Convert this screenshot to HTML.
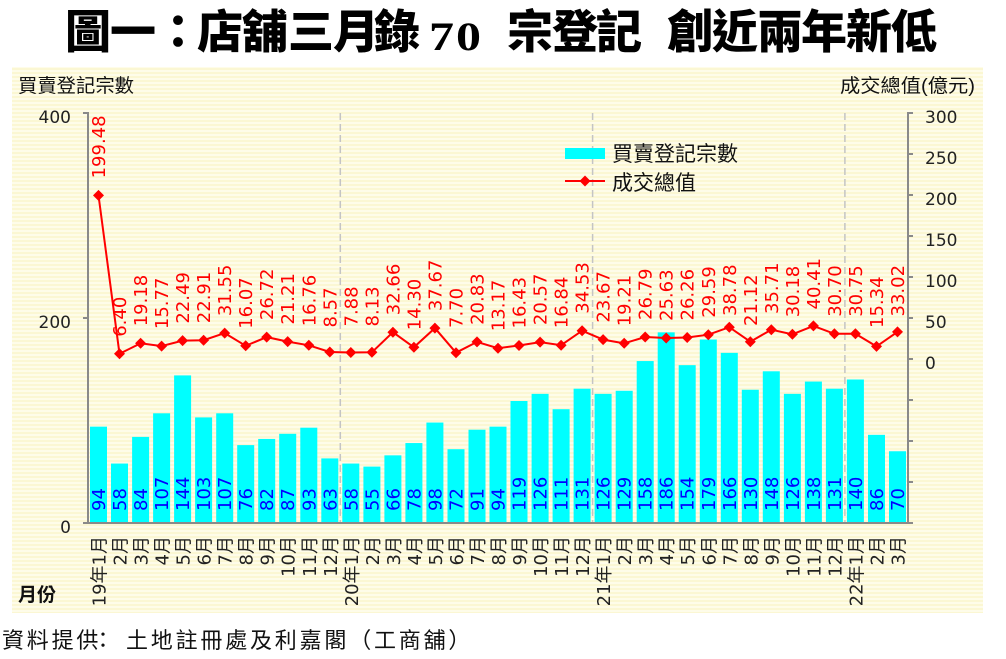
<!DOCTYPE html>
<html><head><meta charset="utf-8"><style>
html,body{margin:0;padding:0;background:#fff;}
svg{display:block;}
.num{font-family:"DejaVu Sans","Liberation Sans",sans-serif;font-size:18px;}
.tk{font-family:"DejaVu Sans","Liberation Sans",sans-serif;font-size:17px;fill:#222;}
.xl{font-family:"DejaVu Sans","Noto Sans CJK TC",sans-serif;font-size:18px;fill:#222;}
.cjk{font-family:"Liberation Sans","Noto Sans CJK TC",sans-serif;}
</style></head><body>
<svg width="1006" height="659" viewBox="0 0 1006 659" xmlns="http://www.w3.org/2000/svg">
<defs>
<pattern id="st" width="8" height="4" patternUnits="userSpaceOnUse">
<rect width="8" height="2" fill="#fbf7d3"/><rect y="2" width="8" height="2" fill="#fefce9"/>
</pattern>
<path id="dm" d="M0,-5.5 L5.5,0 L0,5.5 L-5.5,0Z" fill="#ff0000"/>
</defs>

<!-- title -->
<text class="cjk" y="48" font-size="46" font-weight="900" fill="#000" x="65 110 155 197 242 288 333 374">圖一：店舖三月錄</text>
<text transform="translate(429,50) scale(1.25,1)" font-family="'Liberation Serif',serif" font-size="40" font-weight="bold" fill="#000">7</text>
<text transform="translate(456,50) scale(1.25,1)" font-family="'Liberation Serif',serif" font-size="40" font-weight="bold" fill="#000">0</text>
<text class="cjk" y="48" font-size="46" font-weight="900" fill="#000" x="507 552 596">宗登記</text>
<text class="cjk" y="48" font-size="46" font-weight="900" fill="#000" x="667 712 757 801 846 891">創近兩年新低</text>

<!-- chart background -->
<rect x="12" y="67" width="971" height="546" fill="url(#st)"/>

<!-- axis titles -->
<text class="cjk" x="18" y="92" font-size="19" fill="#111" textLength="116" lengthAdjust="spacingAndGlyphs">買賣登記宗數</text>
<text class="cjk" x="840" y="92" font-size="19" fill="#111" textLength="135" lengthAdjust="spacingAndGlyphs">成交總值(億元)</text>
<text class="cjk" x="18" y="601" font-size="19" font-weight="bold" fill="#111">月份</text>

<!-- year dividers -->
<g stroke="#c4c4c4" stroke-width="1.5" stroke-dasharray="7 4">
<line x1="340.3" y1="113" x2="340.3" y2="523"/>
<line x1="592.6" y1="113" x2="592.6" y2="523"/>
<line x1="844.9" y1="113" x2="844.9" y2="523"/>
</g>

<!-- bars -->
<g fill="#00ffff">
<rect x="90.0" y="426.65" width="17" height="96.35"/>
<rect x="111.0" y="463.55" width="17" height="59.45"/>
<rect x="132.1" y="436.9" width="17" height="86.1"/>
<rect x="153.1" y="413.3" width="17" height="109.7"/>
<rect x="174.1" y="375.4" width="17" height="147.6"/>
<rect x="195.1" y="417.4" width="17" height="105.6"/>
<rect x="216.2" y="413.3" width="17" height="109.7"/>
<rect x="237.2" y="445.1" width="17" height="77.9"/>
<rect x="258.2" y="438.95" width="17" height="84.05"/>
<rect x="279.2" y="433.8" width="17" height="89.2"/>
<rect x="300.3" y="427.7" width="17" height="95.3"/>
<rect x="321.3" y="458.4" width="17" height="64.6"/>
<rect x="342.3" y="463.55" width="17" height="59.45"/>
<rect x="363.4" y="466.6" width="17" height="56.4"/>
<rect x="384.4" y="455.35" width="17" height="67.65"/>
<rect x="405.4" y="443.05" width="17" height="79.95"/>
<rect x="426.4" y="422.55" width="17" height="100.45"/>
<rect x="447.5" y="449.2" width="17" height="73.8"/>
<rect x="468.5" y="429.7" width="17" height="93.3"/>
<rect x="489.5" y="426.65" width="17" height="96.35"/>
<rect x="510.5" y="401.0" width="17" height="122.0"/>
<rect x="531.6" y="393.85" width="17" height="129.15"/>
<rect x="552.6" y="409.2" width="17" height="113.8"/>
<rect x="573.6" y="388.7" width="17" height="134.3"/>
<rect x="594.6" y="393.85" width="17" height="129.15"/>
<rect x="615.7" y="390.8" width="17" height="132.2"/>
<rect x="636.7" y="361.05" width="17" height="161.95"/>
<rect x="657.7" y="332.35" width="17" height="190.65"/>
<rect x="678.7" y="365.15" width="17" height="157.85"/>
<rect x="699.8" y="339.5" width="17" height="183.5"/>
<rect x="720.8" y="352.85" width="17" height="170.15"/>
<rect x="741.8" y="389.75" width="17" height="133.25"/>
<rect x="762.8" y="371.3" width="17" height="151.7"/>
<rect x="783.9" y="393.85" width="17" height="129.15"/>
<rect x="804.9" y="381.55" width="17" height="141.45"/>
<rect x="825.9" y="388.7" width="17" height="134.3"/>
<rect x="846.9" y="379.5" width="17" height="143.5"/>
<rect x="868.0" y="434.85" width="17" height="88.15"/>
<rect x="889.0" y="451.25" width="17" height="71.75"/>
</g>

<!-- bar labels -->
<g class="num" fill="#0000ff">
<text transform="translate(105.0,511) rotate(-90)">94</text>
<text transform="translate(126.0,511) rotate(-90)">58</text>
<text transform="translate(147.1,511) rotate(-90)">84</text>
<text transform="translate(168.1,511) rotate(-90)">107</text>
<text transform="translate(189.1,511) rotate(-90)">144</text>
<text transform="translate(210.1,511) rotate(-90)">103</text>
<text transform="translate(231.2,511) rotate(-90)">107</text>
<text transform="translate(252.2,511) rotate(-90)">76</text>
<text transform="translate(273.2,511) rotate(-90)">82</text>
<text transform="translate(294.2,511) rotate(-90)">87</text>
<text transform="translate(315.3,511) rotate(-90)">93</text>
<text transform="translate(336.3,511) rotate(-90)">63</text>
<text transform="translate(357.3,511) rotate(-90)">58</text>
<text transform="translate(378.4,511) rotate(-90)">55</text>
<text transform="translate(399.4,511) rotate(-90)">66</text>
<text transform="translate(420.4,511) rotate(-90)">78</text>
<text transform="translate(441.4,511) rotate(-90)">98</text>
<text transform="translate(462.5,511) rotate(-90)">72</text>
<text transform="translate(483.5,511) rotate(-90)">91</text>
<text transform="translate(504.5,511) rotate(-90)">94</text>
<text transform="translate(525.5,511) rotate(-90)">119</text>
<text transform="translate(546.6,511) rotate(-90)">126</text>
<text transform="translate(567.6,511) rotate(-90)">111</text>
<text transform="translate(588.6,511) rotate(-90)">131</text>
<text transform="translate(609.6,511) rotate(-90)">126</text>
<text transform="translate(630.7,511) rotate(-90)">129</text>
<text transform="translate(651.7,511) rotate(-90)">158</text>
<text transform="translate(672.7,511) rotate(-90)">186</text>
<text transform="translate(693.7,511) rotate(-90)">154</text>
<text transform="translate(714.8,511) rotate(-90)">179</text>
<text transform="translate(735.8,511) rotate(-90)">166</text>
<text transform="translate(756.8,511) rotate(-90)">130</text>
<text transform="translate(777.8,511) rotate(-90)">148</text>
<text transform="translate(798.9,511) rotate(-90)">126</text>
<text transform="translate(819.9,511) rotate(-90)">138</text>
<text transform="translate(840.9,511) rotate(-90)">131</text>
<text transform="translate(861.9,511) rotate(-90)">140</text>
<text transform="translate(883.0,511) rotate(-90)">86</text>
<text transform="translate(904.0,511) rotate(-90)">70</text>
</g>

<!-- axes -->
<g stroke="#8a8a8a" stroke-width="2" fill="none">
<line x1="88" y1="112" x2="88" y2="524"/>
<line x1="908" y1="112" x2="908" y2="524"/>
<line x1="83" y1="523" x2="913" y2="523"/>
<line x1="83" y1="113" x2="88" y2="113"/>
<line x1="83" y1="318" x2="88" y2="318"/>
<line x1="908" y1="113" x2="913" y2="113"/>
<line x1="908" y1="154" x2="913" y2="154"/>
<line x1="908" y1="195" x2="913" y2="195"/>
<line x1="908" y1="236" x2="913" y2="236"/>
<line x1="908" y1="277" x2="913" y2="277"/>
<line x1="908" y1="318" x2="913" y2="318"/>
<line x1="908" y1="359" x2="913" y2="359"/>
<line x1="908" y1="400" x2="913" y2="400"/>
<line x1="908" y1="441" x2="913" y2="441"/>
<line x1="908" y1="482" x2="913" y2="482"/>
</g>

<!-- tick labels -->
<g class="tk" text-anchor="end">
<text x="71" y="123">400</text>
<text x="71" y="328">200</text>
<text x="71" y="533">0</text>
</g>
<g class="tk">
<text x="925" y="123">300</text>
<text x="925" y="164">250</text>
<text x="925" y="205">200</text>
<text x="925" y="246">150</text>
<text x="925" y="287">100</text>
<text x="925" y="328">50</text>
<text x="925" y="369">0</text>
</g>

<!-- line series -->
<polyline fill="none" stroke="#ff0000" stroke-width="2" points="98.5,195.4 119.5,353.8 140.6,343.3 161.6,346.1 182.6,340.6 203.6,340.2 224.7,333.1 245.7,345.8 266.7,337.1 287.7,341.6 308.8,345.3 329.8,352.0 350.8,352.5 371.9,352.3 392.9,332.2 413.9,347.3 434.9,328.1 456.0,352.7 477.0,341.9 498.0,348.2 519.0,345.5 540.1,342.1 561.1,345.2 582.1,330.7 603.1,339.6 624.2,343.3 645.2,337.0 666.2,338.0 687.2,337.5 708.3,334.7 729.3,327.2 750.3,341.7 771.3,329.7 792.4,334.3 813.4,325.9 834.4,333.8 855.4,333.8 876.5,346.4 897.5,331.9"/>
<g>
<use href="#dm" x="98.5" y="195.4"/><use href="#dm" x="119.5" y="353.8"/><use href="#dm" x="140.6" y="343.3"/><use href="#dm" x="161.6" y="346.1"/><use href="#dm" x="182.6" y="340.6"/><use href="#dm" x="203.6" y="340.2"/><use href="#dm" x="224.7" y="333.1"/><use href="#dm" x="245.7" y="345.8"/><use href="#dm" x="266.7" y="337.1"/><use href="#dm" x="287.7" y="341.6"/><use href="#dm" x="308.8" y="345.3"/><use href="#dm" x="329.8" y="352.0"/><use href="#dm" x="350.8" y="352.5"/><use href="#dm" x="371.9" y="352.3"/><use href="#dm" x="392.9" y="332.2"/><use href="#dm" x="413.9" y="347.3"/><use href="#dm" x="434.9" y="328.1"/><use href="#dm" x="456.0" y="352.7"/><use href="#dm" x="477.0" y="341.9"/><use href="#dm" x="498.0" y="348.2"/><use href="#dm" x="519.0" y="345.5"/><use href="#dm" x="540.1" y="342.1"/><use href="#dm" x="561.1" y="345.2"/><use href="#dm" x="582.1" y="330.7"/><use href="#dm" x="603.1" y="339.6"/><use href="#dm" x="624.2" y="343.3"/><use href="#dm" x="645.2" y="337.0"/><use href="#dm" x="666.2" y="338.0"/><use href="#dm" x="687.2" y="337.5"/><use href="#dm" x="708.3" y="334.7"/><use href="#dm" x="729.3" y="327.2"/><use href="#dm" x="750.3" y="341.7"/><use href="#dm" x="771.3" y="329.7"/><use href="#dm" x="792.4" y="334.3"/><use href="#dm" x="813.4" y="325.9"/><use href="#dm" x="834.4" y="333.8"/><use href="#dm" x="855.4" y="333.8"/><use href="#dm" x="876.5" y="346.4"/><use href="#dm" x="897.5" y="331.9"/>
</g>

<!-- line labels -->
<g class="num" fill="#ff0000">
<text transform="translate(105.0,178.4) rotate(-90)">199.48</text>
<text transform="translate(126.0,336.8) rotate(-90)">6.40</text>
<text transform="translate(147.1,326.3) rotate(-90)">19.18</text>
<text transform="translate(168.1,329.1) rotate(-90)">15.77</text>
<text transform="translate(189.1,323.6) rotate(-90)">22.49</text>
<text transform="translate(210.1,323.2) rotate(-90)">22.91</text>
<text transform="translate(231.2,316.1) rotate(-90)">31.55</text>
<text transform="translate(252.2,328.8) rotate(-90)">16.07</text>
<text transform="translate(273.2,320.1) rotate(-90)">26.72</text>
<text transform="translate(294.2,324.6) rotate(-90)">21.21</text>
<text transform="translate(315.3,326.3) rotate(-90)">16.76</text>
<text transform="translate(336.3,327.5) rotate(-90)">8.57</text>
<text transform="translate(357.3,326.5) rotate(-90)">7.88</text>
<text transform="translate(378.4,326.5) rotate(-90)">8.13</text>
<text transform="translate(399.4,315.2) rotate(-90)">32.66</text>
<text transform="translate(420.4,330.3) rotate(-90)">14.30</text>
<text transform="translate(441.4,311.1) rotate(-90)">37.67</text>
<text transform="translate(462.5,328.0) rotate(-90)">7.70</text>
<text transform="translate(483.5,324.9) rotate(-90)">20.83</text>
<text transform="translate(504.5,331.2) rotate(-90)">13.17</text>
<text transform="translate(525.5,328.5) rotate(-90)">16.43</text>
<text transform="translate(546.6,325.1) rotate(-90)">20.57</text>
<text transform="translate(567.6,328.2) rotate(-90)">16.84</text>
<text transform="translate(588.6,313.7) rotate(-90)">34.53</text>
<text transform="translate(609.6,322.6) rotate(-90)">23.67</text>
<text transform="translate(630.7,326.3) rotate(-90)">19.21</text>
<text transform="translate(651.7,320.0) rotate(-90)">26.79</text>
<text transform="translate(672.7,321.0) rotate(-90)">25.63</text>
<text transform="translate(693.7,320.5) rotate(-90)">26.26</text>
<text transform="translate(714.8,317.7) rotate(-90)">29.59</text>
<text transform="translate(735.8,316.0) rotate(-90)">38.78</text>
<text transform="translate(756.8,326.0) rotate(-90)">21.12</text>
<text transform="translate(777.8,314.0) rotate(-90)">35.71</text>
<text transform="translate(798.9,317.3) rotate(-90)">30.18</text>
<text transform="translate(819.9,309.5) rotate(-90)">40.41</text>
<text transform="translate(840.9,316.8) rotate(-90)">30.70</text>
<text transform="translate(861.9,316.8) rotate(-90)">30.75</text>
<text transform="translate(883.0,328.0) rotate(-90)">15.34</text>
<text transform="translate(904.0,316.5) rotate(-90)">33.02</text>
</g>

<!-- x labels -->
<g class="xl" text-anchor="end">
<text transform="translate(105.5,536) rotate(-90)">19年1月</text>
<text transform="translate(126.5,536) rotate(-90)">2月</text>
<text transform="translate(147.6,536) rotate(-90)">3月</text>
<text transform="translate(168.6,536) rotate(-90)">4月</text>
<text transform="translate(189.6,536) rotate(-90)">5月</text>
<text transform="translate(210.6,536) rotate(-90)">6月</text>
<text transform="translate(231.7,536) rotate(-90)">7月</text>
<text transform="translate(252.7,536) rotate(-90)">8月</text>
<text transform="translate(273.7,536) rotate(-90)">9月</text>
<text transform="translate(294.7,536) rotate(-90)">10月</text>
<text transform="translate(315.8,536) rotate(-90)">11月</text>
<text transform="translate(336.8,536) rotate(-90)">12月</text>
<text transform="translate(357.8,536) rotate(-90)">20年1月</text>
<text transform="translate(378.9,536) rotate(-90)">2月</text>
<text transform="translate(399.9,536) rotate(-90)">3月</text>
<text transform="translate(420.9,536) rotate(-90)">4月</text>
<text transform="translate(441.9,536) rotate(-90)">5月</text>
<text transform="translate(463.0,536) rotate(-90)">6月</text>
<text transform="translate(484.0,536) rotate(-90)">7月</text>
<text transform="translate(505.0,536) rotate(-90)">8月</text>
<text transform="translate(526.0,536) rotate(-90)">9月</text>
<text transform="translate(547.1,536) rotate(-90)">10月</text>
<text transform="translate(568.1,536) rotate(-90)">11月</text>
<text transform="translate(589.1,536) rotate(-90)">12月</text>
<text transform="translate(610.1,536) rotate(-90)">21年1月</text>
<text transform="translate(631.2,536) rotate(-90)">2月</text>
<text transform="translate(652.2,536) rotate(-90)">3月</text>
<text transform="translate(673.2,536) rotate(-90)">4月</text>
<text transform="translate(694.2,536) rotate(-90)">5月</text>
<text transform="translate(715.3,536) rotate(-90)">6月</text>
<text transform="translate(736.3,536) rotate(-90)">7月</text>
<text transform="translate(757.3,536) rotate(-90)">8月</text>
<text transform="translate(778.3,536) rotate(-90)">9月</text>
<text transform="translate(799.4,536) rotate(-90)">10月</text>
<text transform="translate(820.4,536) rotate(-90)">11月</text>
<text transform="translate(841.4,536) rotate(-90)">12月</text>
<text transform="translate(862.4,536) rotate(-90)">22年1月</text>
<text transform="translate(883.5,536) rotate(-90)">2月</text>
<text transform="translate(904.5,536) rotate(-90)">3月</text>
</g>

<!-- legend -->
<rect x="565" y="148" width="40" height="11" fill="#00ffff"/>
<text class="cjk" x="612" y="161" font-size="21" fill="#111" textLength="126" lengthAdjust="spacingAndGlyphs">買賣登記宗數</text>
<line x1="565" y1="181" x2="605" y2="181" stroke="#ff0000" stroke-width="2"/>
<use href="#dm" x="585" y="181"/>
<text class="cjk" x="612" y="190" font-size="21" fill="#111" textLength="84" lengthAdjust="spacingAndGlyphs">成交總值</text>

<!-- footer -->
<text class="cjk" y="648" font-size="22" fill="#111" x="2 26.8 51.6 76.4 92 126 150.8 175.6 200.4 225.2 250 274.8 299.6 324.4 349.2 374 398.8 423.6 448.4">資料提供：土地註冊處及利嘉閣（工商舖）</text>
</svg>
</body></html>
